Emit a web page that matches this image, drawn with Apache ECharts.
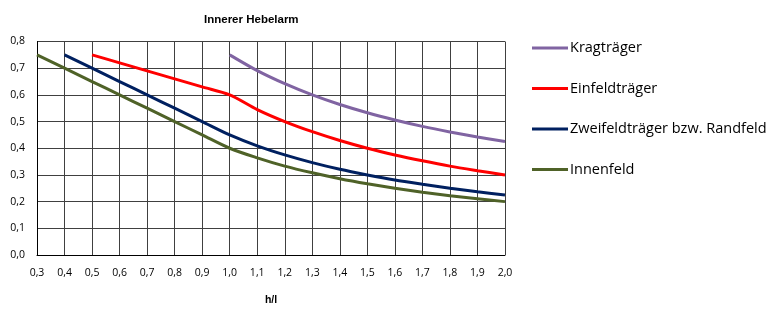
<!DOCTYPE html>
<html>
<head>
<meta charset="utf-8">
<script src="https://cdn.jsdelivr.net/npm/echarts@6/dist/echarts.min.js"></script>
<style>
html,body{margin:0;padding:0;background:#fff;}
#chart{width:774px;height:311px;}
</style>
</head>
<body>
<div id="chart"></div>
<script>
// h/l values
const xKrag = [1.0, 1.1, 1.2, 1.3, 1.4, 1.5, 1.6, 1.7, 1.8, 1.9, 2.0];
const yKrag = [0.75, 0.691, 0.642, 0.6, 0.564, 0.533, 0.506, 0.482, 0.461, 0.442, 0.425];

const xEinfeld = [0.5, 0.6, 0.7, 0.8, 0.9, 1.0, 1.1, 1.2, 1.3, 1.4, 1.5, 1.6, 1.7, 1.8, 1.9, 2.0];
const yEinfeld = [0.75, 0.72, 0.69, 0.66, 0.63, 0.60, 0.545, 0.5, 0.462, 0.429, 0.4, 0.375, 0.353, 0.333, 0.316, 0.3];

const xZweifeld = [0.4, 0.5, 0.6, 0.7, 0.8, 0.9, 1.0, 1.1, 1.2, 1.3, 1.4, 1.5, 1.6, 1.7, 1.8, 1.9, 2.0];
const yZweifeld = [0.75, 0.70, 0.65, 0.60, 0.55, 0.50, 0.45, 0.409, 0.375, 0.346, 0.321, 0.3, 0.281, 0.265, 0.25, 0.237, 0.225];

const xInnen = [0.3, 0.4, 0.5, 0.6, 0.7, 0.8, 0.9, 1.0, 1.1, 1.2, 1.3, 1.4, 1.5, 1.6, 1.7, 1.8, 1.9, 2.0];
const yInnen = [0.75, 0.70, 0.65, 0.60, 0.55, 0.50, 0.45, 0.40, 0.364, 0.333, 0.308, 0.286, 0.267, 0.25, 0.235, 0.222, 0.211, 0.2];

const seriesNames = ['Kragträger', 'Einfeldträger', 'Zweifeldträger bzw. Randfeld', 'Innenfeld'];
const seriesColors = ['#8064A2', '#FF0000', '#002060', '#4F6228'];
const title = 'Innerer Hebelarm';
const xName = 'h/l';

function pairs(xs, ys) { return xs.map((x, i) => [x, ys[i]]); }
const allData = [pairs(xKrag, yKrag), pairs(xEinfeld, yEinfeld), pairs(xZweifeld, yZweifeld), pairs(xInnen, yInnen)];

const fmt = v => (Math.round(v * 10) / 10).toFixed(1).replace('.', ',');
const font = 'Open Sans, Liberation Sans, Arial, sans-serif';
const boldFont = 'Liberation Sans, Arial, sans-serif';

const chart = echarts.init(document.getElementById('chart'), null, {renderer: 'canvas'});
chart.setOption({
  animation: false,
  backgroundColor: '#fff',
  title: {
    text: title, left: 199, top: 9,
    textStyle: {fontFamily: boldFont, fontSize: 11.5, fontWeight: 'bold', color: '#000'}
  },
  legend: {
    orient: 'vertical', left: 527, top: 34,
    icon: 'rect', itemWidth: 36, itemHeight: 3, itemGap: 22.5,
    textStyle: {fontFamily: font, fontSize: 14.5, color: '#000', padding: [0, 0, 0, -3], lineHeight: 18},
    data: seriesNames
  },
  grid: {left: 37, right: 269, top: 41.5, bottom: 48, containLabel: false},
  xAxis: {
    type: 'value', min: 0.3, max: 2.0, interval: 0.1,
    name: xName, nameLocation: 'middle', nameGap: 40,
    nameTextStyle: {fontFamily: boldFont, fontSize: 10.5, fontWeight: 'bold', color: '#000'},
    axisLine: {show: true, lineStyle: {color: '#000', width: 1}},
    axisTick: {show: false},
    axisLabel: {fontFamily: font, fontSize: 10.5, color: '#000', margin: 13, formatter: fmt},
    splitLine: {show: true, lineStyle: {color: '#404040', width: 1}}
  },
  yAxis: {
    type: 'value', min: 0, max: 0.8, interval: 0.1,
    axisLine: {show: true, lineStyle: {color: '#000', width: 1}},
    axisTick: {show: false},
    axisLabel: {fontFamily: font, fontSize: 10.5, color: '#000', margin: 12, formatter: fmt},
    splitLine: {show: true, lineStyle: {color: '#404040', width: 1}}
  },
  series: seriesNames.map((n, i) => ({
    name: n, type: 'line', data: allData[i], smooth: 0.3,
    symbol: 'none', color: seriesColors[i],
    lineStyle: {width: 3, color: seriesColors[i]}
  }))
});
</script>
</body>
</html>
